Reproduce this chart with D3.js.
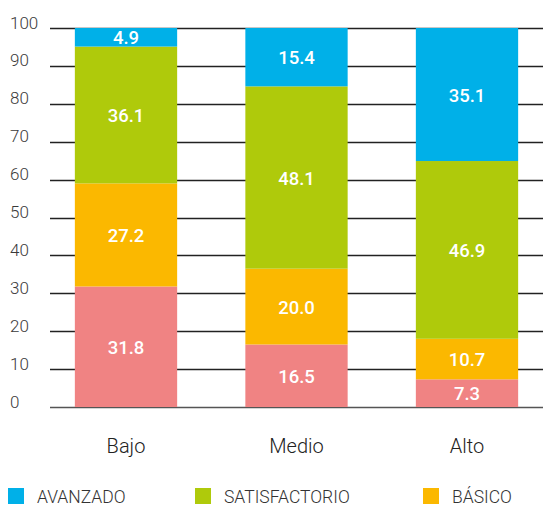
<!DOCTYPE html>
<html>
<head>
<meta charset="utf-8">
<script src="https://cdn.jsdelivr.net/npm/d3@7"></script>
<style>
  html, body { margin: 0; padding: 0; background: #fff; }
  svg { display: block; font-family: Roboto, "Open Sans", sans-serif; }
</style>
</head>
<body>
<svg id="chart" width="543" height="506"></svg>
<script>
/* Stacked 100% bars: performance level by group */
var categories = ['Bajo', 'Medio', 'Alto'];
var levels = ['INSUFICIENTE', 'BÁSICO', 'SATISFACTORIO', 'AVANZADO'];
var insuficiente = [31.8, 16.5, 7.3];
var basico = [27.2, 20.0, 10.7];
var satisfactorio = [36.1, 48.1, 46.9];
var avanzado = [4.9, 15.4, 35.1];
var yTicks = [0, 10, 20, 30, 40, 50, 60, 70, 80, 90, 100];
var legendItems = ['AVANZADO', 'SATISFACTORIO', 'BÁSICO'];

var colors = {
  'INSUFICIENTE': '#f08383',
  'BÁSICO': '#fbb800',
  'SATISFACTORIO': '#afca0b',
  'AVANZADO': '#00b0e8'
};

var rows = categories.map(function (c, i) {
  return {
    cat: c,
    'INSUFICIENTE': insuficiente[i],
    'BÁSICO': basico[i],
    'SATISFACTORIO': satisfactorio[i],
    'AVANZADO': avanzado[i]
  };
});

var svg = d3.select('#chart');

var x = d3.scaleBand().domain(categories).range([40.75, 552.25])
  .paddingInner(0.4).paddingOuter(0.2);
var y = d3.scaleLinear().domain([0, 100]).range([407, 28]);

/* gridlines */
svg.append('g').selectAll('line')
  .data(yTicks).enter().append('line')
  .attr('x1', 50).attr('x2', 543)
  .attr('y1', function (d) { return Math.round(y(d)) + 0.5; })
  .attr('y2', function (d) { return Math.round(y(d)) + 0.5; })
  .attr('stroke', function (d) { return d === 0 ? '#555' : '#222'; })
  .attr('stroke-width', 1.3);

/* tick labels */
svg.append('g').selectAll('text')
  .data(yTicks).enter().append('text')
  .attr('x', 10)
  .attr('y', function (d) { return y(d) + 0.5; })
  .style('font-size', '17px').style('font-weight', 300)
  .style('fill', '#3a3a3a')
  .text(function (d) { return d; });

/* stacked bars */
var stack = d3.stack().keys(levels)(rows);
var layer = svg.append('g').selectAll('g')
  .data(stack).enter().append('g')
  .attr('fill', function (s) { return colors[s.key]; });

layer.selectAll('rect')
  .data(function (s) { return s; }).enter().append('rect')
  .attr('x', function (d) { return x(d.data.cat); })
  .attr('width', x.bandwidth())
  .attr('y', function (d) { return y(d[1]); })
  .attr('height', function (d) { return y(d[0]) - y(d[1]); });

layer.selectAll('text')
  .data(function (s) { return s; }).enter().append('text')
  .attr('x', function (d) { return x(d.data.cat) + x.bandwidth() / 2; })
  .attr('y', function (d) { return (y(d[0]) + y(d[1])) / 2 + 7; })
  .attr('text-anchor', 'middle')
  .style('fill', '#fff').style('font-size', '18.5px').style('font-weight', 500)
  .text(function (d) { return (d[1] - d[0]).toFixed(1); });

/* category labels */
svg.append('g').selectAll('text')
  .data(categories).enter().append('text')
  .attr('x', function (c) { return x(c) + x.bandwidth() / 2; })
  .attr('y', 453)
  .attr('text-anchor', 'middle')
  .style('font-size', '20px').style('font-weight', 300).style('fill', '#222')
  .text(function (c) { return c; });

/* legend */
var legendX = [8, 195, 423];
var lg = svg.append('g').selectAll('g')
  .data(legendItems).enter().append('g')
  .attr('transform', function (d, i) { return 'translate(' + legendX[i] + ',488)'; });
lg.append('rect').attr('width', 16).attr('height', 16)
  .attr('fill', function (d) { return colors[d]; });
lg.append('text').attr('x', 29).attr('y', 15)
  .style('font-size', '17.5px').style('font-weight', 300).style('fill', '#333')
  .text(function (d) { return d; });
</script>
</body>
</html>
